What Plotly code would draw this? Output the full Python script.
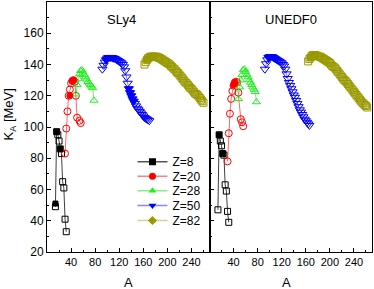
import plotly.graph_objects as go

# ---------------- data (A, K_A in MeV) ----------------
# Z=8
A_O_S = [14, 16, 18, 20, 22, 24, 26, 28, 30, 32]
K_O_S = [49, 97, 95, 91, 86, 83, 65, 61, 41, 33]
A_O_S_f = [14, 16, 22]
K_O_S_f = [51, 97, 86]
A_O_U = [14, 16, 18, 20, 22, 24, 26, 28, 30, 32]
K_O_U = [47, 95, 91, 88, 83, 82, 63, 59, 46, 39]
A_O_U_f = [16, 22]
K_O_U_f = [95, 83]

# Z=20
A_Ca_S = [30, 32, 34, 36, 38, 40, 42, 44, 46, 48, 50, 54, 56]
K_Ca_S = [83, 99, 110, 120, 124, 128, 129.5, 130, 129, 120, 106, 104, 102.5]
A_Ca_S_f = [38, 42, 44]
K_Ca_S_f = [120, 129.5, 130]
A_Ca_U = [30, 32, 34, 36, 38, 40, 42, 44, 46, 48, 52, 54, 56]
K_Ca_U = [78, 96, 108.5, 118, 123, 126.5, 128.5, 129, 128.5, 122, 105, 103, 100.5]
A_Ca_U_f = [40, 42]
K_Ca_U_f = [127, 128.5]

# Z=28
A_Ni = [48, 50, 52, 54, 56, 58, 60, 62, 64, 66, 68, 70, 72, 74, 76, 78]
K_Ni_S = [121, 127, 131, 134, 136, 136.5, 135, 133.5, 132, 130.5, 129, 128, 127, 126, 125, 117]
K_Ni_U = [118, 125.5, 130, 133.5, 136.5, 137, 135.5, 133.5, 132, 130, 128.5, 127, 125.5, 124, 122.5, 116]

# Z=50
A_Sn_S = [92, 94, 96, 98, 100, 102, 104, 106, 108, 110, 112, 114, 116, 118, 120, 122, 124, 126, 128, 130,
          132, 134, 136, 138, 140, 142, 144, 146, 148, 150, 152, 154, 156, 158, 160, 162, 164, 166, 168, 170]
K_Sn_S = [137, 139.5, 141.5, 143, 144, 144.5, 144.5, 144.5, 144.5, 144, 144, 143.5, 143, 142.5, 142, 141.5, 141, 140, 138.5, 136,
          132, 128, 124.5, 122, 120, 118, 116.5, 115, 113.5, 112, 111, 110, 109, 108, 107, 106, 105.5, 105, 104.5, 104]
A_Sn_S_f = [98, 102, 106, 110, 136, 138, 140, 142, 144]
K_Sn_S_f = [143, 144.5, 144.5, 144, 124.5, 122, 120, 118, 116.5]
A_Sn_U = [92, 94, 96, 98, 100, 102, 104, 106, 108, 110, 112, 114, 116, 118, 120, 122, 124, 126, 128, 130,
          132, 134, 136, 138, 140, 142, 144, 146, 148, 150, 152, 154, 156, 158, 160, 162, 164, 166]
K_Sn_U = [137, 140.5, 143, 144.5, 145, 145, 145, 144.5, 144, 143.5, 143, 142.5, 142, 141.5, 141, 140, 139, 137, 134, 131,
          128.5, 126.5, 124.5, 122.5, 120.5, 119, 117, 115, 113, 111, 109.5, 108, 106.5, 105, 104, 103, 102, 101]
A_Sn_U_f = [98, 102, 106, 110]
K_Sn_U_f = [144.5, 145, 144.5, 143.5]

# Z=82
A_Pb_S = [162, 164, 166, 168, 170, 172, 174, 176, 178, 180, 182, 184, 186, 188, 190, 192, 194, 196, 198, 200,
          202, 204, 206, 208, 210, 212, 214, 216, 218, 220, 222, 224, 226, 228, 230, 232, 234, 236, 238, 240,
          242, 244, 246, 248, 250, 252, 254, 256, 258, 260]
K_Pb_S = [140, 141.5, 143, 144, 144.5, 145, 145, 145, 145, 145, 145, 144.5, 144.5, 144, 143.5, 143, 142.5, 142, 141.5, 141,
          140.5, 140, 139, 138.5, 137.5, 137, 136, 135, 134.5, 133.5, 132.5, 131.5, 130.5, 129.5, 128.5, 128, 127, 126, 125, 124.5,
          123.5, 122.5, 121.5, 121, 120.5, 119.5, 118.5, 117.5, 116.5, 115.5]
A_Pb_S_f = [166, 170, 174, 178]
K_Pb_S_f = [143, 144.5, 145, 145]
A_Pb_U = [164, 166, 168, 170, 172, 174, 176, 178, 180, 182, 184, 186, 188, 190, 192, 194, 196, 198, 200, 202,
          204, 206, 208, 210, 212, 214, 216, 218, 220, 222, 224, 226, 228, 230, 232, 234, 236, 238, 240, 242,
          244, 246, 248, 250, 252, 254, 256, 258, 260, 262]
K_Pb_U = [142, 143.5, 144.5, 145.5, 146, 146, 146, 145.5, 145.5, 145, 145, 144.5, 144, 143.5, 143, 142.5, 142, 141.5, 141, 140,
          139, 138.5, 138, 137, 136, 135, 134, 133, 132, 131, 130, 129.5, 128.5, 127.5, 126.5, 125.5, 124.5, 123.5, 122.5, 121.5,
          120.5, 119.5, 118.5, 117.5, 116.5, 115.5, 115, 114, 113.5, 112.5]
A_Pb_U_f = [168, 172, 176]
K_Pb_U_f = [144.5, 146, 146]

legend_names = ["Z=8", "Z=20", "Z=28", "Z=50", "Z=82"]
x_ticks = [40, 80, 120, 160, 200, 240]
y_ticks = [20, 40, 60, 80, 100, 120, 140, 160]

# ---------------- styles ----------------
colors = ["#000000", "#FF0000", "#22EE22", "#0000FF", "#999900"]
line_colors = ["rgba(0,0,0,0.75)", "rgba(255,0,0,0.6)", "rgba(34,220,34,0.6)",
               "rgba(0,0,255,0.5)", "rgba(153,153,0,0.5)"]
legend_line_colors = ["#555555", "#FF8080", "#88F088", "#8888FF", "#D4D49A"]
open_sym = ["square-open", "circle-open", "triangle-up-open", "triangle-down-open", "square-open"]
fill_sym = ["square", "circle", "triangle-up", "triangle-down", "diamond"]
sizes = [6, 7, 7, 8, 7]

FONT = "Liberation Sans, Arial, sans-serif"
fig = go.Figure()

panels = [
    ("x", "y", [(A_O_S, K_O_S), (A_Ca_S, K_Ca_S), (A_Ni, K_Ni_S), (A_Sn_S, K_Sn_S), (A_Pb_S, K_Pb_S)],
     [(0, A_O_S_f, K_O_S_f), (1, A_Ca_S_f, K_Ca_S_f), (3, A_Sn_S_f, K_Sn_S_f), (4, A_Pb_S_f, K_Pb_S_f)]),
    ("x2", "y2", [(A_O_U, K_O_U), (A_Ca_U, K_Ca_U), (A_Ni, K_Ni_U), (A_Sn_U, K_Sn_U), (A_Pb_U, K_Pb_U)],
     [(0, A_O_U_f, K_O_U_f), (1, A_Ca_U_f, K_Ca_U_f), (3, A_Sn_U_f, K_Sn_U_f), (4, A_Pb_U_f, K_Pb_U_f)]),
]

for xa, ya, series, filled in panels:
    for i, (ax, ky) in enumerate(series):
        fig.add_trace(go.Scatter(
            x=ax, y=ky, xaxis=xa, yaxis=ya, mode="lines+markers", showlegend=False,
            line=dict(color=line_colors[i], width=1),
            marker=dict(symbol=open_sym[i], size=sizes[i], color=colors[i], line=dict(width=1, color=colors[i])),
        ))
    for i, ax, ky in filled:
        sym = "square" if i == 4 else fill_sym[i]
        fig.add_trace(go.Scatter(
            x=ax, y=ky, xaxis=xa, yaxis=ya, mode="markers", showlegend=False,
            marker=dict(symbol=sym, size=sizes[i] - 1, color=colors[i], line=dict(width=1, color=colors[i])),
        ))

# legend entries (one small legend per entry so rows can be packed tightly)
legend_ids = ["legend", "legend2", "legend3", "legend4", "legend5"]
legend_y = [0.3612, 0.3028, 0.2448, 0.186, 0.126]
for i, name in enumerate(legend_names):
    fig.add_trace(go.Scatter(
        x=[None], y=[None], xaxis="x", yaxis="y", mode="lines+markers", name=name,
        legend=legend_ids[i],
        line=dict(color=legend_line_colors[i], width=1.5),
        marker=dict(symbol=fill_sym[i], size=7, color=colors[i]),
    ))

axis_common = dict(showline=True, linecolor="black", linewidth=1, mirror=True, showgrid=False,
                   zeroline=False, ticks="inside", ticklen=4, tickcolor="black", automargin=False)

xa_common = dict(axis_common, range=[0, 270], tickmode="array", tickvals=x_ticks,
                 tickfont=dict(size=11, family=FONT, color="black"), tickangle=0,
                 minor=dict(ticks="inside", ticklen=2, tickcolor="black", tickmode="array",
                            tickvals=[20, 60, 100, 140, 180, 220, 260]))

ya_common = dict(axis_common, range=[20, 180], tickmode="array", tickvals=y_ticks,
                 tickfont=dict(size=12, family=FONT, color="black"),
                 minor=dict(ticks="inside", ticklen=2, tickcolor="black", tickmode="array",
                            tickvals=[30, 50, 70, 90, 110, 130, 150, 170]))

title_font = dict(size=13, family=FONT, color="black")
legend_style = dict(x=0.263, xanchor="left", yanchor="middle", bgcolor="rgba(0,0,0,0)",
                    font=dict(size=12, family=FONT, color="black"), borderwidth=0)

layout_legends = {lid: dict(legend_style, y=legend_y[k]) for k, lid in enumerate(legend_ids)}

fig.update_layout(
    width=374, height=289,
    margin=dict(l=47, r=2, t=2, b=37, autoexpand=False),
    paper_bgcolor="white", plot_bgcolor="white",
    font=dict(family=FONT, size=12, color="black"),
    xaxis=dict(xa_common, domain=[0, 0.5], anchor="y"),
    xaxis2=dict(xa_common, domain=[0.5, 1], anchor="y2"),
    yaxis=dict(ya_common, anchor="x"),
    yaxis2=dict(ya_common, anchor="x2", matches="y", showticklabels=False),
    annotations=[
        dict(text="SLy4", xref="paper", yref="paper", x=0.228, y=0.928, xanchor="center", yanchor="middle",
             showarrow=False, font=title_font),
        dict(text="UNEDF0", xref="paper", yref="paper", x=0.75, y=0.928, xanchor="center", yanchor="middle",
             showarrow=False, font=title_font),
        dict(text="A", xref="paper", yref="paper", x=0.25, y=-0.12, xanchor="center", yanchor="middle",
             showarrow=False, font=title_font),
        dict(text="A", xref="paper", yref="paper", x=0.737, y=-0.12, xanchor="center", yanchor="middle",
             showarrow=False, font=title_font),
        dict(text="K<sub>A</sub> [MeV]", xref="paper", yref="paper", x=-0.114, y=0.55,
             xanchor="center", yanchor="middle", textangle=-90, showarrow=False, font=title_font),
    ],
    **layout_legends,
)

fig.write_html("out.html", config={"displayModeBar": False},
               post_script="document.body.style.margin='0px';document.body.style.padding='0px';")
